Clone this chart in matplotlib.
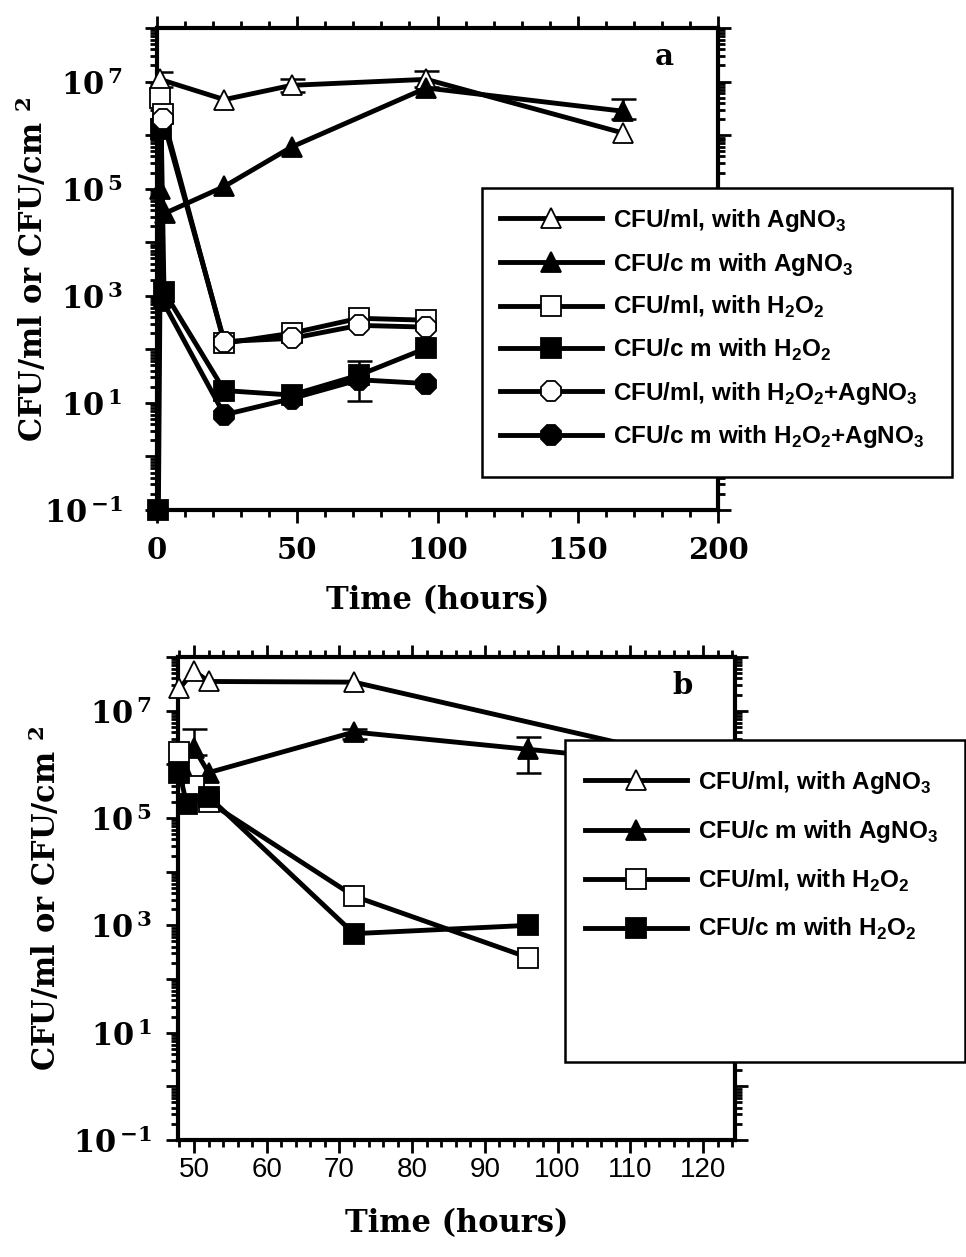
import math
import matplotlib
matplotlib.use("Agg")
import matplotlib.pyplot as plt
from matplotlib.patches import Rectangle
from matplotlib.ticker import LogLocator, MultipleLocator, FuncFormatter, NullFormatter

plt.rcParams['mathtext.fontset'] = 'custom'
plt.rcParams['mathtext.bf'] = 'DejaVu Serif:bold'
plt.rcParams['mathtext.rm'] = 'DejaVu Serif:bold'
plt.rcParams['mathtext.sf'] = 'Liberation Sans:bold'

# ---- panel a data (hours, CFU) ----
a_ml_ag_x = [1, 24, 48, 96, 166]
a_ml_ag_y = [1.1e7, 4.6e6, 8.5e6, 1.1e7, 1.1e6]
a_cm_ag_x = [1, 3, 24, 48, 96, 166]
a_cm_ag_y = [1.0e5, 3.5e4, 1.1e5, 6.0e5, 7.6e6, 2.8e6]
a_ml_h2o2_x = [1, 2, 24, 48, 72, 96]
a_ml_h2o2_y = [5.0e6, 2.5e6, 130, 200, 380, 350]
a_cm_h2o2_x = [0.5, 1.5, 2.5, 24, 48, 72, 96]
a_cm_h2o2_y = [0.1, 1.3e6, 1.2e3, 17, 14, 33, 105]
a_ml_mix_x = [2, 24, 48, 72, 96]
a_ml_mix_y = [2.0e6, 140, 160, 280, 260]
a_cm_mix_x = [2, 24, 48, 72, 96]
a_cm_mix_y = [8.0e2, 6, 12, 27, 23]

# error bars panel a: (x, y, low, high)
a_err = [(48, 8.5e6, 6.5e6, 1.1e7), (96, 1.1e7, 8e6, 1.6e7),
         (166, 2.8e6, 2.0e6, 4.8e6), (72, 33, 11, 60), (1, 1.1e7, 8e6, 1.5e7)]

# ---- panel b data ----
b_ml_ag_x = [48, 50, 52, 72, 120]
b_ml_ag_y = [2.6e7, 5.5e7, 3.5e7, 3.4e7, 1.1e6]
b_cm_ag_x = [50, 52, 72, 96, 120]
b_cm_ag_y = [2.0e6, 7.0e5, 4.0e6, 1.9e6, 9.0e5]
b_ml_h2o2_x = [48, 50, 52, 72, 96]
b_ml_h2o2_y = [1.7e6, 4.0e5, 2.0e5, 3.5e3, 250]
b_cm_h2o2_x = [48, 49, 52, 72, 96]
b_cm_h2o2_y = [7.0e5, 1.8e5, 2.5e5, 700, 1000]

b_err = [(96, 1.9e6, 7e5, 3.3e6), (72, 4.0e6, 3.0e6, 4.5e6),
         (50, 2.0e6, 1.5e6, 4.5e6), (120, 9.0e5, 7e5, 1.4e6)]

labels_a = [r'CFU/ml, with AgNO$_\mathsf{3}$',
            r'CFU/c m with AgNO$_\mathsf{3}$',
            r'CFU/ml, with H$_\mathsf{2}$O$_\mathsf{2}$',
            r'CFU/c m with H$_\mathsf{2}$O$_\mathsf{2}$',
            r'CFU/ml, with H$_\mathsf{2}$O$_\mathsf{2}$+AgNO$_\mathsf{3}$',
            r'CFU/c m with H$_\mathsf{2}$O$_\mathsf{2}$+AgNO$_\mathsf{3}$']

serif = dict(family='DejaVu Serif', weight='bold')
W, H = 966, 1257


def log_fmt(v, pos):
    e = int(round(math.log10(v)))
    if e % 2 == 0:
        return ''
    return r'$\mathbf{10^{\,{%d}}}$' % e


def style_axes(ax, xmin, xmax, major, minor, ypad, xpad, ylab_x, xlab_y):
    ax.set_yscale('log')
    ax.set_ylim(1e-1, 1e8)
    ax.set_xlim(xmin, xmax)
    ax.yaxis.set_major_locator(LogLocator(base=10, numticks=20))
    ax.yaxis.set_minor_locator(LogLocator(base=10, subs=range(2, 10), numticks=20))
    ax.yaxis.set_major_formatter(FuncFormatter(log_fmt))
    ax.yaxis.set_minor_formatter(NullFormatter())
    ax.xaxis.set_major_locator(MultipleLocator(major))
    ax.xaxis.set_minor_locator(MultipleLocator(minor))
    ax.tick_params(which='both', direction='out', top=True, right=True, width=2)
    ax.tick_params(which='major', length=9)
    ax.tick_params(which='minor', length=5)
    ax.tick_params(axis='y', which='major', labelsize=22, pad=ypad)
    ax.tick_params(axis='x', which='major', pad=xpad)
    for sp in ax.spines.values():
        sp.set_linewidth(3)
    ax.set_xlabel('Time (hours)', fontsize=22, **serif)
    ax.set_ylabel(r'CFU/ml or CFU/cm $^{\mathbf{2}}$', fontsize=22, **serif)
    ax.yaxis.set_label_coords(ylab_x, 0.5)
    ax.xaxis.set_label_coords(0.5, xlab_y)


def series(ax, x, y, marker, filled, label=None):
    ax.plot(x, y, color='black', lw=3.5, marker=marker, ms=15,
            mfc='black' if filled else 'white', mec='black', mew=1.3,
            label=label, clip_on=False, zorder=3)


def errs(ax, err):
    for x, y, lo, hi in err:
        ax.errorbar([x], [y], yerr=[[y - lo], [hi - y]], fmt='none',
                    ecolor='black', elinewidth=1.8, capsize=9, capthick=1.8, zorder=2)


def legend_box(handles, labels, box, first_y, line_x, spacing):
    x0, y0, x1, y1 = box
    fig.add_artist(Rectangle((x0 / W, 1 - y1 / H), (x1 - x0) / W, (y1 - y0) / H,
                             transform=fig.transFigure, facecolor='white',
                             edgecolor='black', lw=1.8, zorder=4))
    leg = fig.legend(handles=handles, labels=labels, loc='upper left',
                     bbox_to_anchor=(line_x / W, 1 - (first_y - 13) / H),
                     frameon=False, borderpad=0, borderaxespad=0,
                     prop=dict(family='Liberation Sans', weight='bold', size=17.5),
                     handlelength=4.2, handletextpad=0.45, labelspacing=spacing,
                     numpoints=1)
    leg.set_zorder(5)
    return leg


fig = plt.figure(figsize=(W / 100, H / 100), dpi=100)

# panel a
axa = fig.add_axes([157 / W, 1 - 510 / H, 561 / W, 482 / H])
errs(axa, a_err)
series(axa, a_ml_ag_x, a_ml_ag_y, '^', False, labels_a[0])
series(axa, a_cm_ag_x, a_cm_ag_y, '^', True, labels_a[1])
series(axa, a_ml_h2o2_x, a_ml_h2o2_y, 's', False, labels_a[2])
series(axa, a_cm_h2o2_x, a_cm_h2o2_y, 's', True, labels_a[3])
series(axa, a_ml_mix_x, a_ml_mix_y, '8', False, labels_a[4])
series(axa, a_cm_mix_x, a_cm_mix_y, '8', True, labels_a[5])
style_axes(axa, 0, 200, 50, 10, ypad=16, xpad=10,
           ylab_x=(50 - 157) / 561, xlab_y=(510 - 585) / 482)
for lab in axa.get_xticklabels():
    lab.set_fontfamily('DejaVu Serif')
    lab.set_fontweight('bold')
    lab.set_fontsize(21)
axa.text(0.905, 0.94, 'a', transform=axa.transAxes, fontsize=21, ha='center', va='center', **serif)

legend_box(axa.get_lines()[-6:], labels_a, (482, 188, 952, 477), 220, 500, 0.68)

# panel b
axb = fig.add_axes([178 / W, 1 - 1140 / H, 557 / W, 483 / H])
errs(axb, b_err)
series(axb, b_ml_ag_x, b_ml_ag_y, '^', False, labels_a[0])
series(axb, b_cm_ag_x, b_cm_ag_y, '^', True, labels_a[1])
series(axb, b_ml_h2o2_x, b_ml_h2o2_y, 's', False, labels_a[2])
series(axb, b_cm_h2o2_x, b_cm_h2o2_y, 's', True, labels_a[3])
style_axes(axb, 47.8, 124.4, 10, 2, ypad=10, xpad=3,
           ylab_x=(63 - 178) / 557, xlab_y=(1140 - 1208) / 483)
for lab in axb.get_xticklabels():
    lab.set_fontfamily('Liberation Sans')
    lab.set_fontsize(20)
axb.text(0.905, 0.94, 'b', transform=axb.transAxes, fontsize=21, ha='center', va='center', **serif)

legend_box(axb.get_lines()[-4:], labels_a[:4], (565, 740, 965, 1062), 782, 585, 0.92)

fig.savefig('out.png', dpi=100)
